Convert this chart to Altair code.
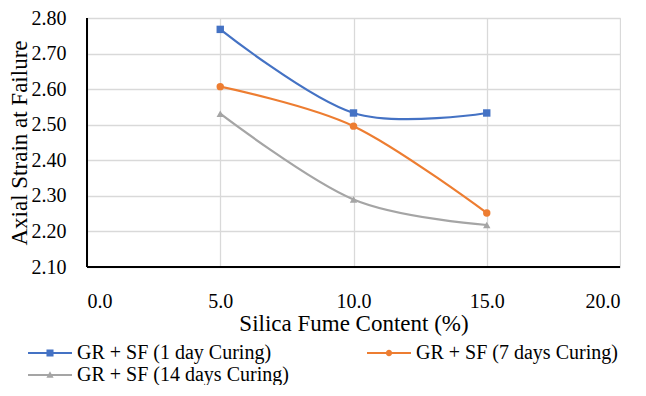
import altair as alt
import pandas as pd

silica_fume = [5.0, 10.0, 15.0]
series_names = ["GR + SF (1 day Curing)", "GR + SF (7 days Curing)", "GR + SF (14 days Curing)"]
strain_1_day = [2.768, 2.533, 2.533]
strain_7_days = [2.607, 2.496, 2.252]
strain_14_days = [2.531, 2.290, 2.218]
x_ticks = [0, 5, 10, 15, 20]
y_ticks = [2.10, 2.20, 2.30, 2.40, 2.50, 2.60, 2.70, 2.80]
colors = ["#4472C4", "#ED7D31", "#A5A5A5"]
marker_shapes = ["square", "circle", "triangle-up"]

# legend symbols: line segment + marker (custom SVG paths)
legend_shapes = [
    "M-2.93,-0.13 L2.93,-0.13 L2.93,0.13 L-2.93,0.13 Z M-0.47,-0.47 L0.47,-0.47 L0.47,0.47 L-0.47,0.47 Z",
    "M-2.93,-0.13 L2.93,-0.13 L2.93,0.13 L-2.93,0.13 Z M-0.42,0 A0.42,0.42 0 1,1 0.42,0 A0.42,0.42 0 1,1 -0.42,0 Z",
    "M-2.93,-0.13 L2.93,-0.13 L2.93,0.13 L-2.93,0.13 Z M0,-0.5 L0.48,0.36 L-0.48,0.36 Z",
]

rows = []
for name, vals in zip(series_names, [strain_1_day, strain_7_days, strain_14_days]):
    for xv, yv in zip(silica_fume, vals):
        rows.append({"sf": xv, "strain": yv, "series": name})
df = pd.DataFrame(rows)

FONT = "Liberation Serif"
GRID = "#d9d9d9"

x_scale = alt.Scale(domain=[0, 20], nice=False, zero=False)
y_scale = alt.Scale(domain=[2.1, 2.8], nice=False, zero=False)

x_axis = alt.Axis(
    values=x_ticks, format=".1f", title="Silica Fume Content (%)",
    labelFont=FONT, labelFontSize=20, titleFont=FONT, titleFontSize=23, titleFontWeight="normal",
    grid=True, gridColor=GRID, gridWidth=1.3, labelOverlap=False,
    domain=False, ticks=False, labelPadding=24, titlePadding=1,
)
y_axis = alt.Axis(
    values=y_ticks, format=".2f", title="Axial Strain at Failure",
    labelFont=FONT, labelFontSize=20, titleFont=FONT, titleFontSize=23, titleFontWeight="normal",
    grid=True, gridColor=GRID, gridWidth=1.3, labelOverlap=False,
    domain=False, ticks=False, labelPadding=21, titlePadding=0,
)

x_enc = alt.X("sf:Q", scale=x_scale, axis=x_axis)
y_enc = alt.Y("strain:Q", scale=y_scale, axis=y_axis)

color_scale = alt.Scale(domain=series_names, range=colors)

base = alt.Chart(df)

# black axis lines at the lower ends of both scales
y_axis_line = base.mark_rule(color="#000000", strokeWidth=2).encode(
    x=alt.XDatum(0, type="quantitative", scale=x_scale, axis=x_axis)
)
x_axis_line = base.mark_rule(color="#000000", strokeWidth=2).encode(
    y=alt.YDatum(2.1, type="quantitative", scale=y_scale, axis=y_axis)
)

lines = base.mark_line(interpolate="cardinal", strokeWidth=2.2).encode(
    x=x_enc, y=y_enc,
    color=alt.Color("series:N", scale=color_scale, sort=series_names, legend=None),
    order=alt.Order("sf:Q"),
)

points = base.mark_point(filled=True, opacity=1, size=55).encode(
    x=x_enc, y=y_enc,
    color=alt.Color("series:N", scale=color_scale, sort=series_names, legend=None),
    shape=alt.Shape("series:N", scale=alt.Scale(domain=series_names, range=marker_shapes),
                    sort=series_names, legend=None),
)

leg = alt.Legend(
    orient="none", direction="horizontal", legendX=-47, legendY=325, columns=2,
    columnPadding=78, rowPadding=2,
    labelOffset=17, symbolSize=225, symbolOpacity=1, symbolStrokeWidth=0,
    title=None, labelFont=FONT, labelFontSize=20, labelLimit=0,
    padding=0,
)

legend_layer = base.mark_point(filled=True, opacity=0, size=225).encode(
    x=x_enc, y=y_enc,
    color=alt.Color("series:N", scale=color_scale, sort=series_names, legend=leg),
    shape=alt.Shape("series:N", scale=alt.Scale(domain=series_names, range=legend_shapes),
                    sort=series_names, legend=leg),
)

chart = alt.layer(lines, points, legend_layer, y_axis_line, x_axis_line).resolve_scale(
    color="independent", shape="independent"
).properties(
    width=533, height=249, padding=0,
).configure(
    font=FONT,
    style={"guide-label": {"font": FONT}, "guide-title": {"font": FONT}},
).configure_axis(
    labelFont=FONT, titleFont=FONT,
).configure_legend(labelFont=FONT)

chart.save("out.html", embed_options={"renderer": "svg", "actions": False})
